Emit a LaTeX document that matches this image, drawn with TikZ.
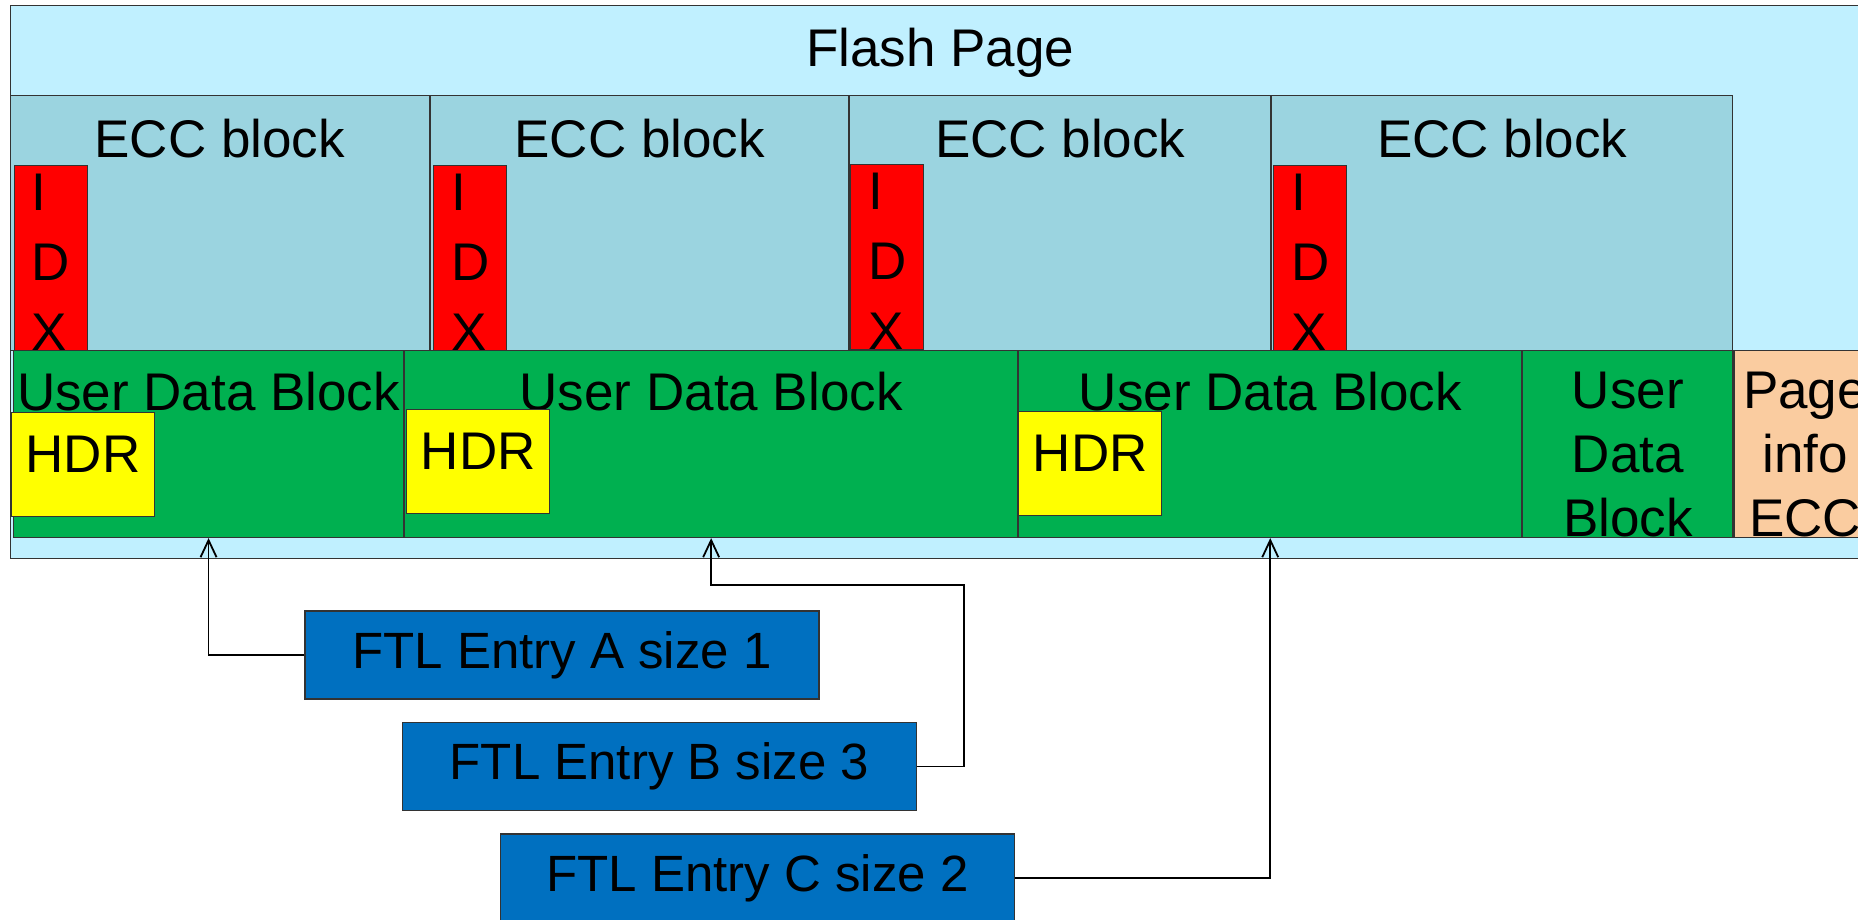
\documentclass[tikz,border=0pt]{standalone}
\usepackage{fontspec}
\setmainfont{Liberation Sans}
\usetikzlibrary{positioning, arrows.meta}
\definecolor{pagebg}{RGB}{192,240,255}
\definecolor{eccbg}{RGB}{155,212,224}
\definecolor{idxred}{RGB}{255,0,0}
\definecolor{udbgreen}{RGB}{0,176,80}
\definecolor{hdryellow}{RGB}{255,255,0}
\definecolor{infobg}{RGB}{250,204,160}
\definecolor{ftlblue}{RGB}{0,112,192}
\newcommand{\idxtext}{\rule{0pt}{44pt}I\\D\\X}

\begin{document}
\begin{tikzpicture}[x=1pt, y=-1pt,
    blk/.style={draw=black!80, line width=1.1pt, rectangle, inner sep=0pt, anchor=north west},
    lbl/.style={font=\fontsize{53}{64}\selectfont, inner sep=0pt, align=center},
    eccblk/.style={blk, fill=eccbg, minimum height=255pt},
    idxblk/.style={blk, fill=idxred, minimum width=73pt, minimum height=185pt, font=\fontsize{53}{70}\selectfont, align=left},
    udblk/.style={blk, fill=udbgreen, minimum height=187pt},
    hdrblk/.style={blk, fill=hdryellow, minimum width=143pt, minimum height=104pt, font=\fontsize{53}{64}\selectfont, text depth=20pt},
    ftl/.style={draw=black!80, line width=1.1pt, fill=ftlblue, minimum width=514pt, minimum height=88pt, inner sep=0pt, font=\fontsize{51}{60}\selectfont},
    link/.style={line width=1.8pt, -{Straight Barb[length=17pt, width=16pt]}}]
        \path[use as bounding box, clip] (0,0) rectangle (1858,920);
        % the page
        \node[blk, fill=pagebg, minimum width=1860pt, minimum height=553pt] (page) at (9.5,5) {};
        \node[lbl, below=23pt of page.north] (pagelb) {Flash Page};
        % ECC blocks
        \node[eccblk, minimum width=419.5pt] (ecc1) at (9.5,95) {};
        \node[eccblk, minimum width=418pt] (ecc2) at (ecc1.north east) {};
        \node[eccblk, minimum width=421pt] (ecc3) at (ecc2.north east) {};
        \node[eccblk, minimum width=461pt] (ecc4) at (ecc3.north east) {};
        \node[lbl, below=24pt of ecc1.north] (ecclb1) {ECC block};
        \node[lbl, below=24pt of ecc2.north] (ecclb2) {ECC block};
        \node[lbl, below=24pt of ecc3.north] (ecclb3) {ECC block};
        \node[lbl, below=24pt of ecc4.north] (ecclb4) {ECC block};
        \node[idxblk, below right=70pt and 4pt of ecc1.north west] (idx1) {\idxtext};
        \node[idxblk, below right=70pt and 3pt of ecc2.north west] (idx2) {\idxtext};
        \node[idxblk, below right=69pt and 1pt of ecc3.north west] (idx3) {\idxtext};
        \node[idxblk, below right=70pt and 2pt of ecc4.north west] (idx4) {\idxtext};
        % user data
        \node[udblk, minimum width=390pt] (udb1) at (13,350) {};
        \node[udblk, minimum width=613pt] (udb2) at (udb1.north east) {};
        \node[udblk, minimum width=503pt] (udb3) at (udb2.north east) {};
        \node[udblk, minimum width=210pt] (udb4) at (udb3.north east) {};
        \node[blk, fill=infobg, minimum width=142pt, minimum height=187pt] (pginfo) at (udb4.north east) {};
        \node[lbl, below=22pt of udb1.north] (udblb1) {User Data Block};
        \node[lbl, below=22pt of udb2.north] (udblb2) {User Data Block};
        \node[lbl, below=22pt of udb3.north] (udblb3) {User Data Block};
        \node[lbl, below=22pt of udb4.north] (udblb4) {User\\Data\\Block};
        \node[lbl, below=22pt of pginfo.north] (infolb) {Page\\info\\ECC};
        \node[hdrblk, below right=62pt and -2pt of udb1.north west] (hdr1) {HDR};
        \node[hdrblk, below right=59pt and 2pt of udb2.north west] (hdr2) {HDR};
        \node[hdrblk, below right=61pt and 0pt of udb3.north west] (hdr3) {HDR};
        % FTL entries
        \node[ftl] (ftlA) at (562,655) {FTL Entry A size 1};
        \node[ftl] (ftlB) at (659.5,766.5) {FTL Entry B size 3};
        \node[ftl] (ftlC) at (757.5,878) {FTL Entry C size 2};
        \coordinate (bjog) at (964,585);
        \draw[link] (ftlA.west) -| (udb1.south);
        \draw[link] (ftlB.east) -| (bjog) -| (udb2.south);
        \draw[link] (ftlC.east) -| (udb3.south);
    \end{tikzpicture}
\end{document}
